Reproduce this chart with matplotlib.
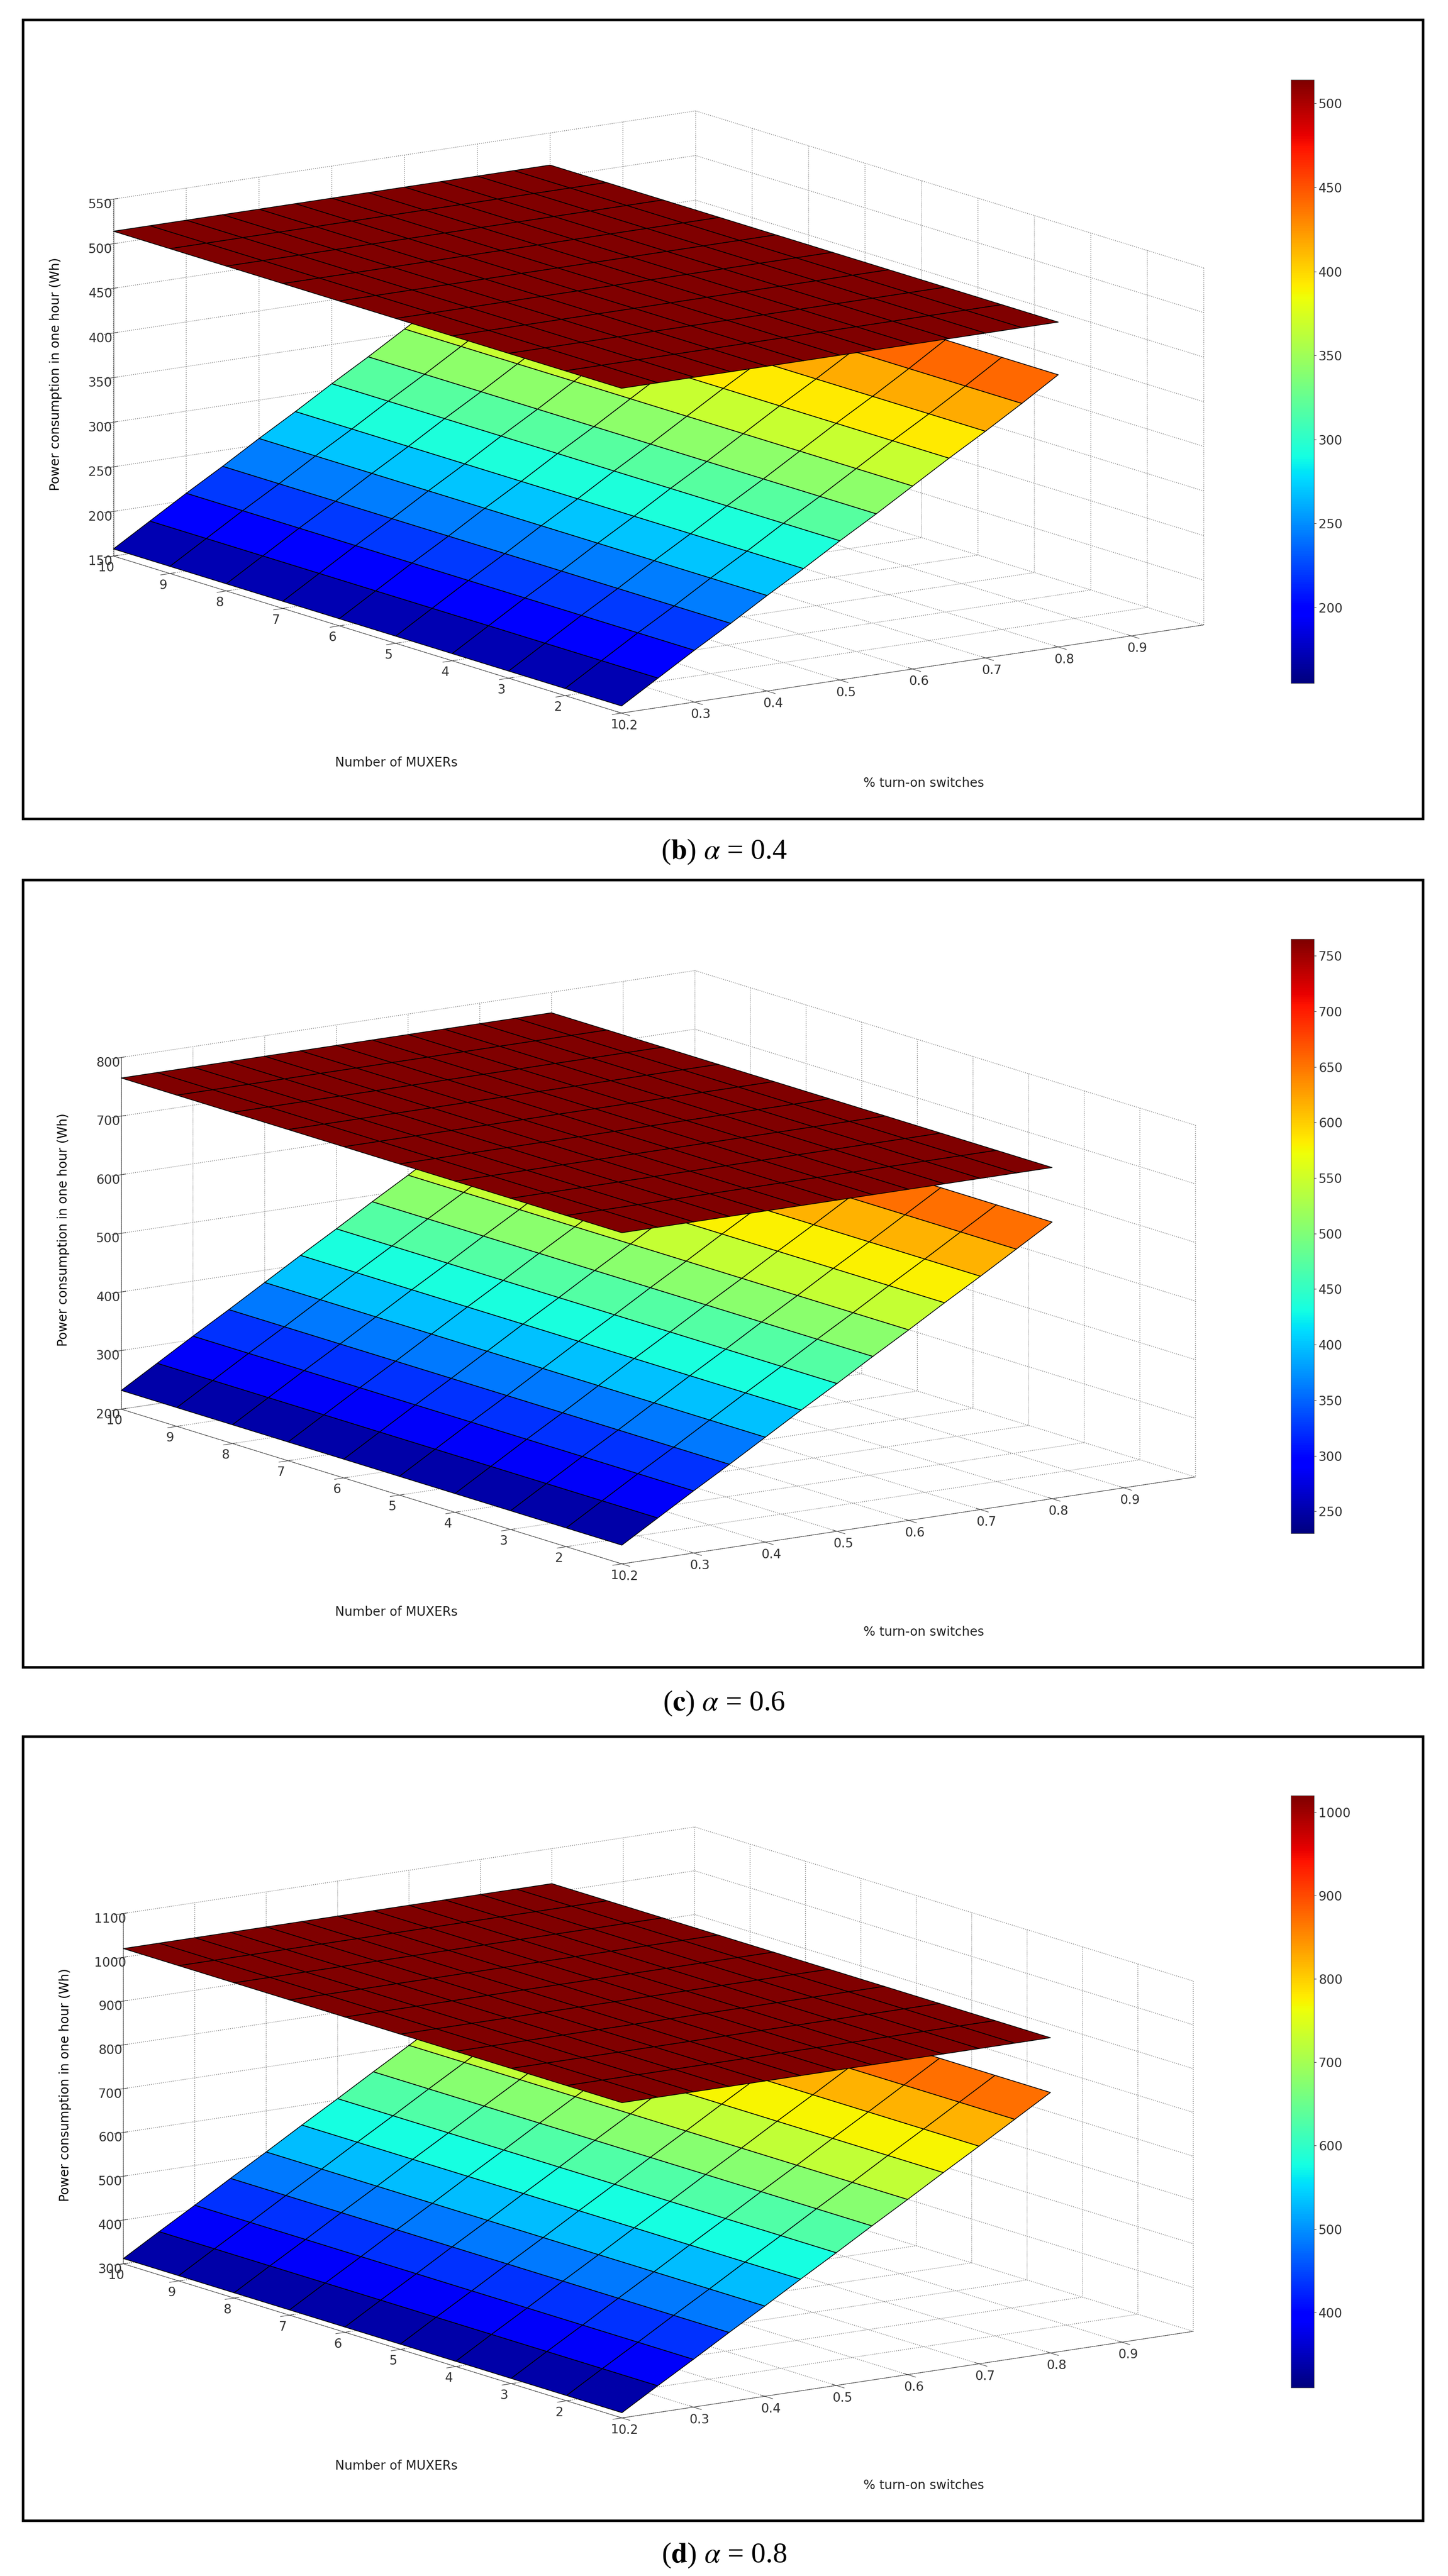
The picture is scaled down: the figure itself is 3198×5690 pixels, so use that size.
import numpy as np
import matplotlib
matplotlib.use("Agg")
import matplotlib.pyplot as plt
from matplotlib.patches import Rectangle
from matplotlib import cm, colors

# ---- data ----
switches = [0.2, 0.25, 0.3, 0.35, 0.4, 0.45, 0.5, 0.55, 0.6, 0.65, 0.7, 0.75, 0.8]
muxers = [1, 2, 3, 4, 5, 6, 7, 8, 9, 10]

captions = ["b", "c", "d"]
alphas = ["0.4", "0.6", "0.8"]

bottom_b = [158, 183, 208, 232, 257, 281, 306, 330, 355, 380, 404, 429, 455]
top_b = [514] * 13
bottom_c = [232, 269, 306, 342, 379, 416, 452, 489, 525, 562, 598, 635, 672]
top_c = [765] * 13
bottom_d = [312, 361, 409, 458, 506, 555, 603, 652, 700, 749, 797, 846, 895]
top_d = [1020] * 13

bottoms = [bottom_b, bottom_c, bottom_d]
tops = [top_b, top_c, top_d]
zlims = [(150, 550), (200, 800), (300, 1100)]
zticks = [list(range(150, 551, 50)), list(range(200, 801, 100)), list(range(300, 1101, 100))]
cbticks = [list(range(200, 501, 50)), list(range(250, 751, 50)), list(range(400, 1001, 100))]
clims = [(155, 514), (230, 765), (310, 1020)]
xticks = [0.2, 0.3, 0.4, 0.5, 0.6, 0.7, 0.8, 0.9]

W, H = 3198, 5690
fig = plt.figure(figsize=(W / 100, H / 100), dpi=100)
plt.rcParams['font.family'] = ['DejaVu Sans']

frames = [(44, 1809), (1944, 3683), (3836, 5568)]
caps_y = [1882, 3763, 5645]
L, R = 51, 3143

def fx(px): return px / W
def fy(py): return 1 - py / H

for i in range(3):
    t, b = frames[i]
    fig.patches.append(Rectangle((fx(L), fy(b)), fx(R - L), (b - t) / H,
                                 transform=fig.transFigure, fill=False,
                                 edgecolor='black', linewidth=4))
    fig.text(0.5, fy(caps_y[i]),
             r"($\mathbf{" + captions[i] + r"}$) $\alpha$ = " + alphas[i],
             fontsize=46, ha='center', va='center', family='Liberation Serif',
             math_fontfamily='stix')

    fh = b - t
    s = 1.098
    cx = (-560 + 3180) / 2 + 110
    cy = t + 0.44 * fh + 124
    aw = 3740 * s
    ah = 1.32 * fh * s
    ax_l = cx - aw / 2
    ax_b = cy + ah / 2
    ax = fig.add_axes([fx(ax_l), fy(ax_b), fx(aw), ah / H],
                      projection='3d', computed_zorder=False)
    ax.patch.set_alpha(0)
    ax.set_proj_type('ortho')
    X, Y = np.meshgrid(np.array(switches), np.array(muxers, dtype=float))
    Zb = np.tile(np.array(bottoms[i], dtype=float), (len(muxers), 1))
    Zt = np.tile(np.array(tops[i], dtype=float), (len(muxers), 1))
    norm = colors.Normalize(*clims[i])
    ax.plot_surface(X, Y, Zb, cmap='jet', norm=norm, edgecolor='black', linewidth=1.2,
                    rstride=1, cstride=1, antialiased=True, shade=False)
    ax.plot_surface(X, Y, Zt, cmap='jet', norm=norm, edgecolor='black', linewidth=1.2,
                    rstride=1, cstride=1, antialiased=True, shade=False)
    ax.set_xlim(0.2, 1.0)
    ax.set_ylim(1, 10)
    ax.set_zlim(*zlims[i])
    ax.set_xticks(xticks)
    ax.set_yticks(muxers)
    ax.set_zticks(zticks[i])
    ax.view_init(elev=12.5, azim=-125)
    ax.set_box_aspect((1.38, 1.72, 0.71))
    for a in (ax.xaxis, ax.yaxis, ax.zaxis):
        a.set_pane_color((1, 1, 1, 0))
        a._axinfo['grid']['linestyle'] = ':'
        a._axinfo['grid']['color'] = (0.5, 0.5, 0.5, 1)
        a._axinfo['grid']['linewidth'] = 1.2
        a.line.set_color('#404040')
        a.set_tick_params(labelsize=20, colors='#333333')
    ax.set_zlabel("Power consumption in one hour (Wh)", fontsize=20, labelpad=30)
    fig.text(fx(875), fy(t + 0.93 * fh), "Number of MUXERs", fontsize=20,
             ha='center', va='center', color='#222222')
    fig.text(fx(2040), fy(t + 0.955 * fh), "% turn-on switches", fontsize=20,
             ha='center', va='center', color='#222222')

    cax = fig.add_axes([fx(2851), fy(t + 0.83 * fh), fx(51), 0.755 * fh / H])
    cb = fig.colorbar(cm.ScalarMappable(norm=norm, cmap='jet'), cax=cax, ticks=cbticks[i])
    cb.ax.tick_params(labelsize=20, colors='#333333')
    cb.outline.set_edgecolor('#555555')

fig.savefig("out.png", dpi=100)
